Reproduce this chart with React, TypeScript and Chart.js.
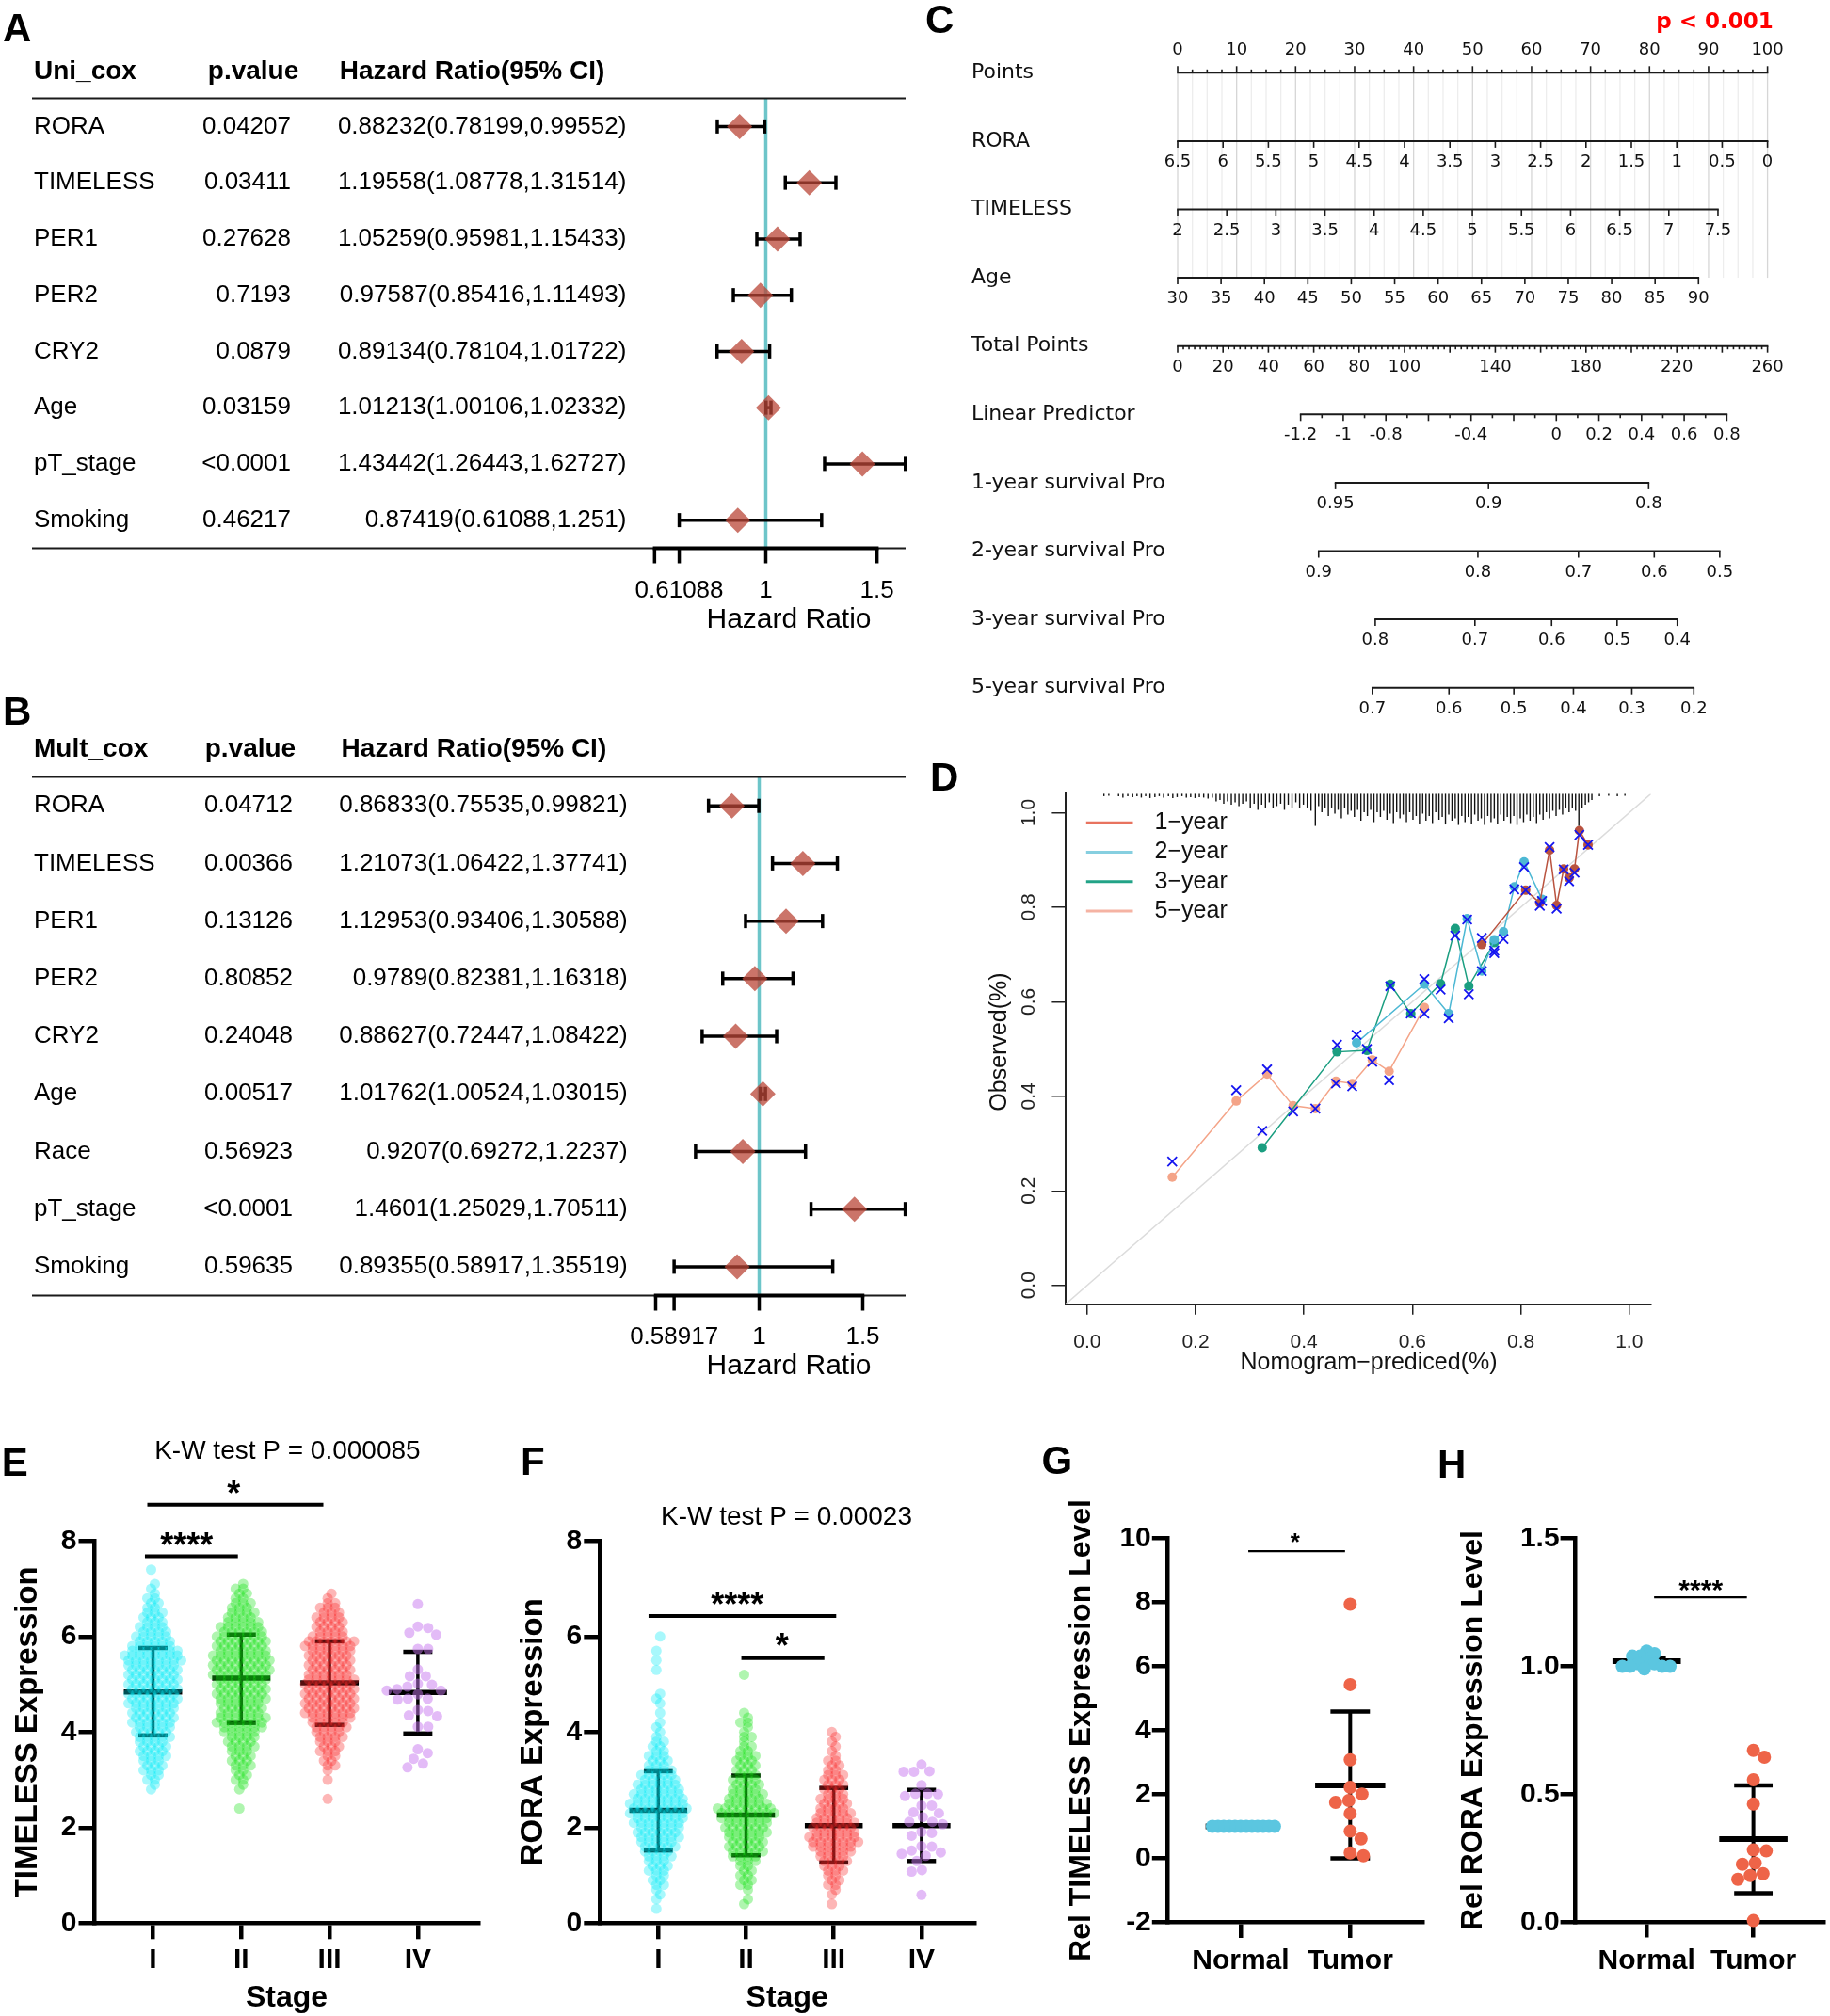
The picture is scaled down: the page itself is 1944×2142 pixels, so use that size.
import React, { useEffect, useRef } from 'react';
import { Chart, registerables } from 'chart.js';

Chart.register(...registerables);

const SANS = "'Liberation Sans', Arial, Helvetica, sans-serif";
const DEJA = "'DejaVu Sans', Verdana, sans-serif";

/* ====================== DATA ====================== */
// Panel A – univariate Cox
const uniVars = ['RORA', 'TIMELESS', 'PER1', 'PER2', 'CRY2', 'Age', 'pT_stage', 'Smoking'];
const uniP = ['0.04207', '0.03411', '0.27628', '0.7193', '0.0879', '0.03159', '<0.0001', '0.46217'];
const uniHR = [0.88232, 1.19558, 1.05259, 0.97587, 0.89134, 1.01213, 1.43442, 0.87419];
const uniLo = [0.78199, 1.08778, 0.95981, 0.85416, 0.78104, 1.00106, 1.26443, 0.61088];
const uniHi = [0.99552, 1.31514, 1.15433, 1.11493, 1.01722, 1.02332, 1.62727, 1.251];
const uniTicks = [0.5, 0.61088, 1, 1.5];
const uniTickLabels = ['', '0.61088', '1', '1.5'];

// Panel B – multivariate Cox
const multVars = ['RORA', 'TIMELESS', 'PER1', 'PER2', 'CRY2', 'Age', 'Race', 'pT_stage', 'Smoking'];
const multP = ['0.04712', '0.00366', '0.13126', '0.80852', '0.24048', '0.00517', '0.56923', '<0.0001', '0.59635'];
const multHR = [0.86833, 1.21073, 1.12953, 0.9789, 0.88627, 1.01762, 0.9207, 1.4601, 0.89355];
const multLo = [0.75535, 1.06422, 0.93406, 0.82381, 0.72447, 1.00524, 0.69272, 1.25029, 0.58917];
const multHi = [0.99821, 1.37741, 1.30588, 1.16318, 1.08422, 1.03015, 1.2237, 1.70511, 1.35519];
const multTicks = [0.5, 0.58917, 1, 1.5];
const multTickLabels = ['', '0.58917', '1', '1.5'];

// Panel C – nomogram
const nomoNames = ['Points', 'RORA', 'TIMELESS', 'Age', 'Total Points', 'Linear Predictor',
  '1-year survival Pro', '2-year survival Pro', '3-year survival Pro', '5-year survival Pro'];
const roraValues = [6.5, 6, 5.5, 5, 4.5, 4, 3.5, 3, 2.5, 2, 1.5, 1, 0.5, 0];
const roraPoints = [0, 100];
const timelessValues = [2, 2.5, 3, 3.5, 4, 4.5, 5, 5.5, 6, 6.5, 7, 7.5];
const timelessPoints = [0, 91.6];
const ageValues = [30, 35, 40, 45, 50, 55, 60, 65, 70, 75, 80, 85, 90];
const agePoints = [0, 88.3];
const totalLabels = [0, 20, 40, 60, 80, 100, 140, 180, 220, 260];
const totalRange = [0, 260];
const lpLabels = [-1.2, -1, -0.8, -0.4, 0, 0.2, 0.4, 0.6, 0.8];
const lpRange = [-1.2, 0.8];
const lpPoints = [20.85, 93.1];
const surv1Labels = [0.95, 0.9, 0.8];
const surv1Points = [26.75, 52.7, 79.85];
const surv2Labels = [0.9, 0.8, 0.7, 0.6, 0.5];
const surv2Points = [23.9, 50.9, 67.95, 80.8, 91.9];
const surv3Labels = [0.8, 0.7, 0.6, 0.5, 0.4];
const surv3Points = [33.5, 50.4, 63.4, 74.5, 84.7];
const surv5Labels = [0.7, 0.6, 0.5, 0.4, 0.3, 0.2];
const surv5Points = [33.0, 46.0, 57.0, 67.1, 77.0, 87.5];

// Panel D – calibration
const calRange = [-0.04, 1.04];
const calTicks = [0, 0.2, 0.4, 0.6, 0.8, 1.0];
const cal1x = [0.728, 0.809, 0.835, 0.853, 0.866, 0.879, 0.889, 0.899, 0.908, 0.924];
const cal1obs = [0.721, 0.836, 0.809, 0.921, 0.804, 0.881, 0.862, 0.881, 0.962, 0.932];
const cal1cor = [0.735, 0.836, 0.803, 0.927, 0.797, 0.880, 0.855, 0.873, 0.953, 0.932];
const cal2x = [0.497, 0.622, 0.667, 0.701, 0.728, 0.751, 0.768, 0.788, 0.806, 0.839];
const cal2obs = [0.513, 0.637, 0.575, 0.776, 0.665, 0.731, 0.748, 0.843, 0.896, 0.817];
const cal2cor = [0.530, 0.648, 0.565, 0.774, 0.665, 0.708, 0.733, 0.838, 0.885, 0.813];
const cal3x = [0.323, 0.461, 0.516, 0.559, 0.597, 0.652, 0.679, 0.704, 0.751];
const cal3obs = [0.291, 0.494, 0.497, 0.637, 0.575, 0.638, 0.755, 0.633, 0.725];
const cal3cor = [0.327, 0.509, 0.500, 0.633, 0.575, 0.626, 0.740, 0.616, 0.703];
const cal5x = [0.157, 0.275, 0.332, 0.380, 0.421, 0.459, 0.489, 0.526, 0.557, 0.622];
const cal5obs = [0.229, 0.390, 0.447, 0.380, 0.374, 0.432, 0.427, 0.477, 0.453, 0.588];
const cal5cor = [0.262, 0.413, 0.457, 0.368, 0.374, 0.427, 0.421, 0.473, 0.434, 0.575];
const calNames = ['1\u2212year', '2\u2212year', '3\u2212year', '5\u2212year'];
const rugX = [
  0.031, 0.040, 0.058, 0.066, 0.075, 0.084, 0.092, 0.100, 0.108, 0.116, 0.125, 0.133, 0.141, 0.150, 0.158, 0.166,
  0.175, 0.183, 0.191, 0.199, 0.207, 0.215, 0.223, 0.231,
  0.238, 0.245, 0.252, 0.259, 0.266, 0.273, 0.280, 0.287, 0.294, 0.301, 0.308, 0.315, 0.322, 0.329, 0.336, 0.343,
  0.350, 0.357, 0.364, 0.371, 0.378, 0.385, 0.392, 0.399, 0.406, 0.413,
  0.421, 0.427, 0.433, 0.439, 0.445, 0.451, 0.457, 0.463, 0.469, 0.475, 0.481, 0.487, 0.493, 0.499, 0.505, 0.511,
  0.517, 0.523, 0.529, 0.535, 0.541, 0.547, 0.553, 0.559, 0.565, 0.571, 0.577, 0.583, 0.589, 0.595, 0.601, 0.607,
  0.613, 0.619, 0.625, 0.631, 0.637, 0.643, 0.649, 0.655, 0.661, 0.667, 0.673, 0.679, 0.685, 0.691, 0.697, 0.703,
  0.709, 0.715, 0.721, 0.727, 0.733, 0.739, 0.745, 0.751, 0.757, 0.763, 0.769, 0.775, 0.781, 0.787, 0.793, 0.799,
  0.805, 0.811, 0.817, 0.823, 0.829, 0.835, 0.841, 0.847, 0.853, 0.859, 0.865, 0.871, 0.877, 0.883, 0.889, 0.895,
  0.901, 0.907, 0.913, 0.919, 0.925, 0.931,
  0.945, 0.962, 0.978, 0.992,
];
const rugLen = [
  0.005, 0.004, 0.005, 0.008, 0.005, 0.007, 0.005, 0.008, 0.005, 0.009, 0.007, 0.005, 0.008, 0.005, 0.009, 0.007,
  0.005, 0.008, 0.007, 0.009, 0.007, 0.008, 0.010, 0.008,
  0.016, 0.013, 0.021, 0.016, 0.023, 0.018, 0.026, 0.021, 0.016, 0.029, 0.021, 0.034, 0.023, 0.029, 0.018, 0.031,
  0.026, 0.021, 0.034, 0.023, 0.029, 0.018, 0.031, 0.023, 0.029, 0.036,
  0.068, 0.026, 0.039, 0.031, 0.047, 0.029, 0.042, 0.034, 0.052, 0.031, 0.044, 0.036, 0.049, 0.034, 0.057, 0.039,
  0.047, 0.034, 0.060, 0.039, 0.049, 0.036, 0.055, 0.042, 0.062, 0.039, 0.052, 0.044, 0.060, 0.039, 0.055, 0.047,
  0.065, 0.042, 0.057, 0.047, 0.062, 0.039, 0.055, 0.049, 0.065, 0.044, 0.057, 0.052, 0.066, 0.047, 0.060, 0.049,
  0.065, 0.044, 0.057, 0.052, 0.066, 0.047, 0.060, 0.052, 0.065, 0.044, 0.057, 0.049, 0.062, 0.047, 0.066, 0.052,
  0.060, 0.044, 0.057, 0.049, 0.062, 0.044, 0.055, 0.039, 0.052, 0.036, 0.047, 0.034, 0.044, 0.031, 0.039, 0.029,
  0.036, 0.068, 0.031, 0.023, 0.018, 0.013,
  0.005, 0.004, 0.005, 0.004,
];

// Panels E / F – expression by stage (histogram counts per 0.1 bin for I–III, raw values for IV)
const stageCats = ['I', 'II', 'III', 'IV'];
const eBinStart = [2.8, 2.4, 2.6];
const eCountsI = [1, 1, 2, 2, 3, 3, 3, 4, 4, 4, 4, 5, 5, 5, 6, 6, 6, 6, 7, 7, 7, 7, 7, 7, 7, 7, 7, 8, 8, 7, 6, 5, 5, 4, 4, 3, 3, 3, 2, 2, 2, 1, 1, 1, 0, 0, 1];
const eCountsII = [1, 0, 0, 0, 1, 1, 2, 2, 2, 3, 3, 3, 3, 4, 4, 4, 5, 6, 7, 7, 6, 6, 6, 7, 7, 7, 7, 7, 8, 8, 8, 8, 8, 7, 7, 7, 7, 6, 6, 5, 4, 4, 3, 3, 2, 2, 2, 1];
const eCountsIII = [1, 0, 0, 0, 1, 0, 1, 2, 2, 2, 3, 3, 3, 4, 4, 5, 5, 6, 7, 7, 7, 7, 7, 7, 7, 7, 6, 6, 6, 6, 6, 6, 7, 7, 5, 4, 4, 4, 4, 3, 3, 2, 1, 1];
const eStageIV = [6.68, 6.21, 6.18, 6.08, 6.04, 5.74, 5.74, 5.31, 5.17, 5.17, 5.01, 4.99, 4.95, 4.90, 4.87, 4.87, 4.79, 4.70, 4.70, 4.68, 4.46, 4.44, 4.35, 4.33, 4.11, 4.11, 3.64, 3.56, 3.44, 3.34, 3.26];
const eMean = [4.84, 5.13, 5.03, 4.83];
const eSdLo = [3.93, 4.19, 4.15, 3.97];
const eSdHi = [5.76, 6.04, 5.90, 5.68];
const eBrackets = [
  { x1: 0.909, x2: 1.962, y: 7.68, label: '****', lx: 1.382, ly: 8.085 },
  { x1: 0.936, x2: 2.93, y: 8.76, label: '*', lx: 1.915, ly: 9.167 },
];

const fBinStart = [0.3, 0.4, 0.4];
const fCountsI = [1, 0, 1, 1, 1, 2, 2, 2, 3, 3, 3, 4, 4, 5, 5, 6, 6, 6, 7, 7, 8, 8, 8, 7, 7, 6, 6, 5, 5, 4, 3, 3, 3, 2, 2, 2, 1, 1, 1, 1, 0, 1, 0, 1, 1, 1, 0, 0, 0, 0, 1, 0, 1, 0, 1, 0, 0, 1];
const fCountsII = [1, 1, 0, 1, 2, 2, 2, 2, 2, 3, 4, 5, 5, 5, 5, 6, 6, 6, 7, 8, 8, 6, 5, 5, 4, 4, 4, 3, 3, 3, 3, 3, 2, 2, 1, 2, 1, 1, 2, 1, 1, 0, 0, 0, 0, 0, 0, 0, 1];
const fCountsIII = [1, 0, 1, 1, 2, 2, 2, 3, 3, 4, 4, 5, 6, 7, 7, 6, 6, 6, 5, 5, 4, 4, 4, 3, 3, 3, 3, 3, 2, 2, 2, 1, 1, 1, 1, 1, 1];
const fStageIV = [3.32, 3.18, 3.17, 3.17, 2.89, 2.71, 2.71, 2.70, 2.66, 2.46, 2.46, 2.32, 2.30, 2.22, 2.12, 2.12, 2.07, 1.91, 1.89, 1.83, 1.61, 1.60, 1.52, 1.48, 1.45, 1.41, 1.30, 1.11, 1.08, 0.59];
const fMean = [2.36, 2.26, 2.04, 2.04];
const fSdLo = [1.52, 1.42, 1.27, 1.30];
const fSdHi = [3.18, 3.09, 2.83, 2.79];
const fBrackets = [
  { x1: 0.889, x2: 3.028, y: 6.43, label: '****', lx: 1.901, ly: 6.85 },
  { x1: 1.947, x2: 2.893, y: 5.55, label: '*', lx: 2.41, ly: 5.98 },
];

// Panels G / H – qPCR
const ntCats = ['Normal', 'Tumor'];
const gNormal = [1, 1, 1, 1, 1, 1, 1, 1, 1, 1, 1, 1];
const gTumor = [7.94, 5.43, 3.08, 2.22, 2.01, 1.81, 1.75, 1.40, 0.85, 0.61, 0.17, 0.08];
const gMean = [1.0, 2.28];
const gSdLo = [1.0, 0.0];
const gSdHi = [1.0, 4.59];
const gBrackets = [{ x1: 1.07, x2: 1.953, y: 9.6, label: '*', lx: 1.497, ly: 10.07 }];
const gYTicks = [-2, 0, 2, 4, 6, 8, 10];

const hNormal = [1.06, 1.05, 1.04, 1.04, 1.02, 1.01, 1.01, 1.0, 1.0, 1.0, 0.99, 1.0];
const hTumor = [0.672, 0.645, 0.557, 0.462, 0.283, 0.279, 0.232, 0.227, 0.190, 0.183, 0.168, 0.007];
const hMean = [1.02, 0.325];
const hSdLo = [1.01, 0.114];
const hSdHi = [1.03, 0.535];
const hBrackets = [{ x1: 1.07, x2: 1.939, y: 1.27, label: '****', lx: 1.507, ly: 1.327 }];
const hYTicks = [0, 0.5, 1, 1.5];
const eYTicks = [0, 2, 4, 6, 8];

/* ====================== HELPERS ====================== */
function seg(ctx: any, x1: number, y1: number, x2: number, y2: number, w: number, c = '#000') {
  ctx.beginPath();
  ctx.lineWidth = w;
  ctx.strokeStyle = c;
  ctx.lineCap = 'butt';
  ctx.moveTo(x1, y1);
  ctx.lineTo(x2, y2);
  ctx.stroke();
}
function txt(ctx: any, s: string, x: number, y: number, font: string, align = 'left', base = 'middle', color = '#000') {
  ctx.font = font;
  ctx.textAlign = align;
  ctx.textBaseline = base;
  ctx.fillStyle = color;
  ctx.fillText(s, x, y);
}
const bold = (n: number, fam = SANS) => `bold ${n}px ${fam}`;
const reg = (n: number, fam = SANS) => `${n}px ${fam}`;

const baseOpts: any = {
  responsive: false,
  maintainAspectRatio: false,
  animation: false,
  devicePixelRatio: 1,
  events: [],
};
const noPlugins = { legend: { display: false }, tooltip: { enabled: false }, title: { display: false } };

// beeswarm from histogram rows
function rowSwarm(counts: number[], start: number, cat: number, stepCat: number) {
  const out: any[] = [];
  counts.forEach((n, i) => {
    const v = Math.round((start + i * 0.1) * 100) / 100;
    const shift = (i % 2 ? 0.25 : -0.25) * stepCat;
    for (let k = 0; k < n; k++) out.push({ x: cat + (k - (n - 1) / 2) * stepCat + shift, y: v });
  });
  return out;
}
// beeswarm by collision avoidance
function collideSwarm(values: number[], cat: number, pxY: number, pxX: number, minD: number) {
  const order = values.slice().sort((a, b) => b - a);
  const placed: any[] = [];
  const out: any[] = [];
  order.forEach((v) => {
    const py = v * pxY;
    let off = 0;
    for (let s = 0; s < 1000; s++) {
      const o = s === 0 ? 0 : (s % 2 ? 1 : -1) * Math.ceil(s / 2) * 0.5;
      if (placed.every((q) => (q.x - o) ** 2 + (q.y - py) ** 2 >= minD * minD)) {
        off = o;
        break;
      }
    }
    placed.push({ x: off, y: py });
    out.push({ x: cat + off / pxX, y: v });
  });
  return out;
}

/* ====================== PANEL A / B ====================== */
function forestConfig(p: any) {
  const L = 34, R = 962;
  const xMin = 1 - (p.one - L) / p.ppu;
  const xMax = 1 + (R - p.one) / p.ppu;
  const oy = p.top;
  const n = p.vars.length;
  const plugin = {
    id: 'forest' + p.letter,
    beforeDatasetsDraw(chart: any) {
      const { ctx, chartArea: a, scales } = chart;
      const x = scales.x, y = scales.y;
      ctx.save();
      const x1 = x.getPixelForValue(1);
      seg(ctx, x1, a.top, x1, a.bottom, 3.5, '#6DC5C9');
      p.lo.forEach((lo: number, i: number) => {
        const py = y.getPixelForValue(i);
        const xa = x.getPixelForValue(lo), xb = x.getPixelForValue(p.hi[i]);
        seg(ctx, xa, py, xb, py, 3.5);
        seg(ctx, xa, py - 7.5, xa, py + 7.5, 3.5);
        seg(ctx, xb, py - 7.5, xb, py + 7.5, 3.5);
      });
      ctx.restore();
    },
    afterDatasetsDraw(chart: any) {
      const { ctx, chartArea: a, scales } = chart;
      const x = scales.x, y = scales.y;
      ctx.save();
      txt(ctx, p.letter, 3, p.letterBase - oy, bold(42), 'left', 'alphabetic');
      const hy = p.headY - oy;
      txt(ctx, p.head, 36, hy, bold(28));
      txt(ctx, 'p.value', p.pHeadX, hy, bold(28));
      txt(ctx, 'Hazard Ratio(95% CI)', p.hrHeadX, hy, bold(28));
      p.vars.forEach((v: string, i: number) => {
        const py = y.getPixelForValue(i);
        txt(ctx, v, 36, py, reg(26));
        txt(ctx, p.pv[i], p.pRight, py, reg(26), 'right');
        txt(ctx, `${p.hr[i]}(${p.lo[i]},${p.hi[i]})`, p.hrRight, py, reg(26), 'right');
      });
      seg(ctx, a.left, a.top, a.right, a.top, 2, '#1a1a1a');
      seg(ctx, a.left, a.bottom, a.right, a.bottom, 2, '#1a1a1a');
      const t0 = x.getPixelForValue(p.ticks[0]);
      const t1 = x.getPixelForValue(p.ticks[p.ticks.length - 1]);
      seg(ctx, t0 - 1.75, a.bottom, t1 + 1.75, a.bottom, 4);
      p.ticks.forEach((t: number, i: number) => {
        const px = x.getPixelForValue(t);
        seg(ctx, px, a.bottom, px, a.bottom + 16, 3.5);
        if (p.tickLabels[i]) txt(ctx, p.tickLabels[i], px, p.tickY - oy, reg(26), 'center');
      });
      txt(ctx, 'Hazard Ratio', p.titleX, p.titleY - oy, reg(30), 'center');
      ctx.restore();
    },
  };
  return {
    type: 'scatter',
    data: {
      datasets: [{
        data: p.hr.map((v: number, i: number) => ({ x: v, y: i })),
        pointStyle: 'rectRot',
        pointRadius: 13.5,
        backgroundColor: 'rgba(185,70,55,0.75)',
        borderColor: 'rgba(0,0,0,0)',
        pointBorderWidth: 0,
        clip: false,
      }],
    },
    options: {
      ...baseOpts,
      layout: { padding: { left: L, right: p.W - R, top: p.areaTop - oy, bottom: p.H - (p.areaBottom - oy) } },
      plugins: noPlugins,
      scales: {
        x: { type: 'linear', display: false, min: xMin, max: xMax },
        y: { type: 'linear', display: false, min: -0.5, max: n - 0.5, reverse: true },
      },
    },
    plugins: [plugin],
  };
}

const makeA = () => forestConfig({
  letter: 'A', letterBase: 44, top: 0, W: 980, H: 700,
  head: 'Uni_cox', vars: uniVars, pv: uniP, hr: uniHR, lo: uniLo, hi: uniHi,
  ticks: uniTicks, tickLabels: uniTickLabels,
  one: 813.5, ppu: 236.3, areaTop: 104.5, areaBottom: 582.5,
  headY: 76, pHeadX: 220.8, hrHeadX: 360.7, pRight: 309, hrRight: 665.4,
  tickY: 628, titleY: 658.5, titleX: 838,
});
const makeB = () => forestConfig({
  letter: 'B', letterBase: 770, top: 735, W: 980, H: 740,
  head: 'Mult_cox', vars: multVars, pv: multP, hr: multHR, lo: multLo, hi: multHi,
  ticks: multTicks, tickLabels: multTickLabels,
  one: 806.5, ppu: 220, areaTop: 825.6, areaBottom: 1376.5,
  headY: 796, pHeadX: 217.7, hrHeadX: 362.6, pRight: 311, hrRight: 666.7,
  tickY: 1421, titleY: 1452, titleX: 838,
});

/* ====================== PANEL C ====================== */
function buildNomoRows() {
  const rows: any[] = [];
  const lin = (v: number, v0: number, v1: number, p0: number, p1: number) => p0 + ((v - v0) / (v1 - v0)) * (p1 - p0);
  const r0: any[] = [];
  for (let k = 0; k <= 40; k++) {
    const v = k * 2.5;
    r0.push({ p: v, len: k % 4 === 0 ? 7 : 3.5, label: k % 4 === 0 ? String(v) : undefined });
  }
  rows.push(r0);
  const linRow = (vals: number[], pts: number[]) =>
    vals.map((v) => ({ p: lin(v, vals[0], vals[vals.length - 1], pts[0], pts[1]), len: 7, label: String(v) }));
  rows.push(linRow(roraValues, roraPoints));
  rows.push(linRow(timelessValues, timelessPoints));
  rows.push(linRow(ageValues, agePoints));
  const r4: any[] = [];
  for (let k = 0; k <= 104; k++) {
    const v = k * 2.5;
    r4.push({ p: lin(v, totalRange[0], totalRange[1], 0, 100), len: k % 8 === 0 ? 7 : 3.5, label: totalLabels.includes(v) ? String(v) : undefined });
  }
  rows.push(r4);
  const r5: any[] = [];
  for (let k = 0; k <= 20; k++) {
    let v = Math.round((lpRange[0] + k * 0.1) * 10) / 10;
    if (v === 0) v = 0;
    r5.push({ p: lin(v, lpRange[0], lpRange[1], lpPoints[0], lpPoints[1]), len: k % 2 === 0 ? 7 : 4, label: lpLabels.includes(v) ? String(v) : undefined });
  }
  rows.push(r5);
  [[surv1Labels, surv1Points], [surv2Labels, surv2Points], [surv3Labels, surv3Points], [surv5Labels, surv5Points]].forEach(([ls, ps]) => {
    rows.push(ls.map((v, i) => ({ p: ps[i], len: 7, label: String(v) })));
  });
  return rows;
}

function makeC() {
  const OX = 983, W = 961, H = 790;
  const L = 1251 - OX, R = 1877.6 - OX, T = 77.3, B = 730.7;
  const rows = buildNomoRows();
  const plugin = {
    id: 'nomo',
    afterDraw(chart: any) {
      const { ctx, scales } = chart;
      const x = scales.x, y = scales.y;
      ctx.save();
      txt(ctx, 'C', 0, 35, bold(42), 'left', 'alphabetic');
      txt(ctx, 'p < 0.001', 1883.8 - OX, 24, bold(23, DEJA), 'right', 'middle', '#FF0000');
      const yTop = y.getPixelForValue(0), yAge = y.getPixelForValue(3);
      for (let k = 0; k <= 40; k++) {
        const px = x.getPixelForValue(k * 2.5);
        seg(ctx, px, yTop, px, yAge, 1.3, k % 4 === 0 ? '#D6D6D6' : '#EDEDED');
      }
      rows.forEach((row: any[], r: number) => {
        const py = y.getPixelForValue(r);
        txt(ctx, nomoNames[r], 1032 - OX, py, reg(22, DEJA), 'left', 'middle', '#111');
        const ps = row.map((t) => t.p);
        const xa = x.getPixelForValue(Math.min(...ps));
        const xb = x.getPixelForValue(Math.max(...ps));
        seg(ctx, xa - 0.8, py, xb + 0.8, py, 2, '#1a1a1a');
        const dir = r === 0 ? -1 : 1;
        row.forEach((t) => {
          const px = x.getPixelForValue(t.p);
          seg(ctx, px, py, px, py + dir * t.len, 1.6, '#1a1a1a');
          if (t.label !== undefined) {
            txt(ctx, t.label, px, py + dir * (r === 0 ? 24 : 22.5), reg(18, DEJA), 'center', 'middle', '#111');
          }
        });
      });
      ctx.restore();
    },
  };
  return {
    type: 'scatter',
    data: { datasets: [] },
    options: {
      ...baseOpts,
      layout: { padding: { left: L, right: W - R, top: T, bottom: H - B } },
      plugins: noPlugins,
      scales: {
        x: { type: 'linear', display: false, min: 0, max: 100 },
        y: { type: 'linear', display: false, min: 0, max: 9, reverse: true },
      },
    },
    plugins: [plugin],
  };
}

/* ====================== PANEL D ====================== */
function makeD() {
  const W = 800, H = 690;
  const L = 148.8, R = 770.8, T = 53.4, B = 595.8;
  const series = [
    { x: cal1x, obs: cal1obs, cor: cal1cor, dot: '#B9533F', leg: '#E8735F' },
    { x: cal2x, obs: cal2obs, cor: cal2cor, dot: '#4DB8D4', leg: '#86CFE0' },
    { x: cal3x, obs: cal3obs, cor: cal3cor, dot: '#1A9E80', leg: '#22A387' },
    { x: cal5x, obs: cal5obs, cor: cal5cor, dot: '#F4A488', leg: '#F5B3A3' },
  ];
  const datasets: any[] = [{
    data: calRange.map((v) => ({ x: v, y: v })),
    showLine: true, borderColor: '#DCDCDC', borderWidth: 1.5, pointRadius: 0, order: 20,
  }];
  series.forEach((s, i) => {
    datasets.push({
      data: s.x.map((v, j) => ({ x: v, y: s.obs[j] })),
      showLine: true, borderColor: s.dot, borderWidth: 1.5,
      pointRadius: 5, pointStyle: 'circle', backgroundColor: s.dot, pointBackgroundColor: s.dot, pointBorderWidth: 0,
      order: 5 + i, clip: false,
    });
    datasets.push({
      data: s.x.map((v, j) => ({ x: v, y: s.cor[j] })),
      showLine: false, pointStyle: 'crossRot', pointRadius: 7,
      borderColor: '#1515F0', pointBorderColor: '#1515F0', pointBorderWidth: 1.8, backgroundColor: 'rgba(0,0,0,0)',
      order: 0, clip: false,
    });
  });
  const plugin = {
    id: 'cal',
    afterDraw(chart: any) {
      const { ctx, scales } = chart;
      const x = scales.x, y = scales.y;
      ctx.save();
      const yTop = y.getPixelForValue(calRange[1]);
      rugX.forEach((v, i) => {
        const px = x.getPixelForValue(v);
        seg(ctx, px, yTop, px, y.getPixelForValue(calRange[1] - rugLen[i]), 1.4, '#111');
      });
      calTicks.forEach((v) => {
        ctx.save();
        ctx.translate(110.3, y.getPixelForValue(v));
        ctx.rotate(-Math.PI / 2);
        txt(ctx, v.toFixed(1), 0, 0, reg(21), 'center', 'middle', '#222');
        ctx.restore();
      });
      ctx.save();
      ctx.translate(79.5, 317);
      ctx.rotate(-Math.PI / 2);
      txt(ctx, 'Observed(%)', 0, 0, reg(25), 'center', 'middle', '#111');
      ctx.restore();
      txt(ctx, 'Nomogram\u2212prediced(%)', 471, 658, reg(25), 'center', 'middle', '#111');
      const ly = [84.2, 115.5, 146.8, 178.1];
      series.forEach((s, i) => {
        seg(ctx, 170.8, ly[i], 220.5, ly[i], 3, s.leg);
        txt(ctx, calNames[i], 243.6, ly[i], reg(25), 'left', 'middle', '#111');
      });
      txt(ctx, 'D', 5, 49.5, bold(42), 'left', 'alphabetic');
      ctx.restore();
    },
  };
  const axisCommon = (tl: number) => ({
    grid: { display: true, drawOnChartArea: false, drawTicks: true, tickLength: tl, lineWidth: 1.5, color: '#222' },
    border: { display: true, width: 2, color: '#222' },
  });
  return {
    type: 'scatter',
    data: { datasets },
    options: {
      ...baseOpts,
      layout: { padding: { left: 0, right: W - R, top: T, bottom: 0 } },
      plugins: noPlugins,
      scales: {
        x: {
          type: 'linear', min: calRange[0], max: calRange[1],
          afterBuildTicks: (s: any) => { s.ticks = calTicks.map((v) => ({ value: v })); },
          afterFit: (s: any) => { s.height = H - B; },
          ticks: { autoSkip: false, maxRotation: 0, minRotation: 0, callback: (v: any) => Number(v).toFixed(1), font: { family: SANS, size: 21 }, color: '#222', padding: 17 },
          ...axisCommon(11),
        },
        y: {
          type: 'linear', min: calRange[0], max: calRange[1],
          afterBuildTicks: (s: any) => { s.ticks = calTicks.map((v) => ({ value: v })); },
          afterFit: (s: any) => { s.width = L; },
          ticks: { display: false },
          ...axisCommon(14.4),
        },
      },
    },
    plugins: [plugin],
  };
}

/* ====================== PANELS E–H ====================== */
function dotConfig(p: any) {
  const plugin = {
    id: 'dots' + p.letter,
    beforeDatasetsDraw(chart: any) {
      const { ctx, scales } = chart;
      const x = scales.x, y = scales.y;
      ctx.save();
      p.means.forEach((m: number, i: number) => {
        const c = i + 1;
        const px = x.getPixelForValue(c);
        const yl = y.getPixelForValue(p.lo[i]), yh = y.getPixelForValue(p.hi[i]), ym = y.getPixelForValue(m);
        seg(ctx, px, yl, px, yh, p.sdW);
        seg(ctx, x.getPixelForValue(c - p.capHalf), yl, x.getPixelForValue(c + p.capHalf), yl, p.capW);
        seg(ctx, x.getPixelForValue(c - p.capHalf), yh, x.getPixelForValue(c + p.capHalf), yh, p.capW);
        seg(ctx, x.getPixelForValue(c - p.meanHalf), ym, x.getPixelForValue(c + p.meanHalf), ym, p.meanW);
      });
      ctx.restore();
    },
    afterDatasetsDraw(chart: any) {
      const { ctx, scales } = chart;
      const x = scales.x, y = scales.y;
      ctx.save();
      txt(ctx, p.letter, p.letterX, p.letterY, bold(42), 'left', 'alphabetic');
      if (p.title) txt(ctx, p.title, p.titleX, p.titleY, reg(28), 'center', 'middle');
      p.brackets.forEach((b: any) => {
        const yb = y.getPixelForValue(b.y);
        seg(ctx, x.getPixelForValue(b.x1), yb, x.getPixelForValue(b.x2), yb, p.bracketW);
        txt(ctx, b.label, x.getPixelForValue(b.lx), y.getPixelForValue(b.ly) + 0.59 * p.starSize, bold(p.starSize), 'center', 'alphabetic');
      });
      ctx.restore();
    },
  };
  const grid = { display: true, drawOnChartArea: false, drawTicks: true, tickLength: p.tl, lineWidth: p.lw, color: '#000' };
  const border = { display: true, width: p.lw, color: '#000' };
  return {
    type: 'scatter',
    data: {
      datasets: p.groups.map((g: any) => ({
        data: g.pts, backgroundColor: g.color, borderColor: 'rgba(0,0,0,0)',
        pointRadius: p.r, pointBorderWidth: 0, clip: false,
      })),
    },
    options: {
      ...baseOpts,
      layout: { padding: { left: 0, right: p.W - p.R, top: p.T, bottom: 0 } },
      plugins: noPlugins,
      scales: {
        x: {
          type: 'linear', min: p.xMin, max: p.xMax,
          afterBuildTicks: (s: any) => { s.ticks = p.cats.map((_: any, i: number) => ({ value: i + 1 })); },
          afterFit: (s: any) => { s.height = p.H - p.B; },
          ticks: {
            autoSkip: false, maxRotation: 0, minRotation: 0,
            callback: (v: any) => p.cats[Math.round(v) - 1],
            font: { family: SANS, size: 30, weight: 'bold' }, color: '#000', padding: p.xPad,
          },
          grid, border,
          title: p.xTitle
            ? { display: true, text: p.xTitle, font: { family: SANS, size: 32, weight: 'bold' }, color: '#000', padding: { top: 0, bottom: 0 } }
            : { display: false },
        },
        y: {
          type: 'linear', min: p.yMin, max: p.yMax,
          afterBuildTicks: (s: any) => { s.ticks = p.yTicks.map((v: number) => ({ value: v })); },
          afterFit: (s: any) => { s.width = p.L; },
          ticks: { callback: p.yFmt, font: { family: SANS, size: 30, weight: 'bold' }, color: '#000', padding: p.yPad },
          grid, border,
          title: { display: true, text: p.yTitle, font: { family: SANS, size: p.yTitleSize, weight: 'bold' }, color: '#000', padding: { top: p.yTitlePad, bottom: 0 } },
        },
      },
    },
    plugins: [plugin],
  };
}

const makeE = () => dotConfig({
  letter: 'E', letterX: 1.7, letterY: 48, title: 'K-W test P = 0.000085', titleX: 305.4, titleY: 22,
  W: 530, H: 622, L: 100.5, R: 508.5, T: 117.3, B: 523.3,
  xMin: 0.339, xMax: 4.689, yMin: 0, yMax: 8, yTicks: eYTicks, yFmt: (v: any) => String(v),
  cats: stageCats, tl: 17, lw: 4.5, xPad: 4, yPad: 2,
  yTitle: 'TIMELESS Expression', yTitleSize: 33, yTitlePad: 10, xTitle: 'Stage', r: 5.5,
  groups: [
    { pts: rowSwarm(eCountsI, eBinStart[0], 1, 8 / 93.8), color: 'rgba(0,235,245,0.34)' },
    { pts: rowSwarm(eCountsII, eBinStart[1], 2, 8 / 93.8), color: 'rgba(20,225,20,0.34)' },
    { pts: rowSwarm(eCountsIII, eBinStart[2], 3, 8 / 93.8), color: 'rgba(250,40,40,0.34)' },
    { pts: collideSwarm(eStageIV, 4, 50.75, 93.8, 11), color: 'rgba(200,120,240,0.5)' },
  ],
  means: eMean, lo: eSdLo, hi: eSdHi, meanHalf: 0.33, capHalf: 0.165, meanW: 5.5, sdW: 3.5, capW: 4.5,
  brackets: eBrackets, starSize: 36, bracketW: 4,
});

const makeF = () => dotConfig({
  letter: 'F', letterX: 23, letterY: 47, title: 'K-W test P = 0.00023', titleX: 305.5, titleY: 92.5,
  W: 520, H: 622, L: 107.3, R: 505, T: 117.3, B: 523.3,
  xMin: 0.3348, xMax: 4.602, yMin: 0, yMax: 8, yTicks: eYTicks, yFmt: (v: any) => String(v),
  cats: stageCats, tl: 17, lw: 4.5, xPad: 4, yPad: 2,
  yTitle: 'RORA Expression', yTitleSize: 33, yTitlePad: 16.9, xTitle: 'Stage', r: 5.5,
  groups: [
    { pts: rowSwarm(fCountsI, fBinStart[0], 1, 8 / 93.2), color: 'rgba(0,235,245,0.34)' },
    { pts: rowSwarm(fCountsII, fBinStart[1], 2, 8 / 93.2), color: 'rgba(20,225,20,0.34)' },
    { pts: rowSwarm(fCountsIII, fBinStart[2], 3, 8 / 93.2), color: 'rgba(250,40,40,0.34)' },
    { pts: collideSwarm(fStageIV, 4, 50.75, 93.2, 11), color: 'rgba(200,120,240,0.5)' },
  ],
  means: fMean, lo: fSdLo, hi: fSdHi, meanHalf: 0.33, capHalf: 0.165, meanW: 5.5, sdW: 3.5, capW: 4.5,
  brackets: fBrackets, starSize: 36, bracketW: 4,
});

const makeG = () => dotConfig({
  letter: 'G', letterX: 16.4, letterY: 46,
  W: 430, H: 622, L: 150.3, R: 420.8, T: 114.5, B: 522.5,
  xMin: 0.3333, xMax: 2.657, yMin: -2, yMax: 10, yTicks: gYTicks, yFmt: (v: any) => String(v),
  cats: ntCats, tl: 16.5, lw: 4.5, xPad: 7, yPad: 1,
  yTitle: 'Rel TIMELESS Expression Level', yTitleSize: 32, yTitlePad: 39.8, r: 7,
  groups: [
    { pts: collideSwarm(gNormal, 1, 34, 116.4, 6), color: '#5BC6E0' },
    { pts: collideSwarm(gTumor, 2, 34, 116.4, 14), color: '#EE6448' },
  ],
  means: gMean, lo: gSdLo, hi: gSdHi, meanHalf: 0.32, capHalf: 0.18, meanW: 6, sdW: 4, capW: 4.5,
  brackets: gBrackets, starSize: 26, bracketW: 2.2,
});

const makeH = () => dotConfig({
  letter: 'H', letterX: 7, letterY: 50,
  W: 424, H: 622, L: 153.6, R: 424, T: 114.5, B: 522.5,
  xMin: 0.3333, xMax: 2.656, yMin: 0, yMax: 1.5, yTicks: hYTicks, yFmt: (v: any) => Number(v).toFixed(1),
  cats: ntCats, tl: 16, lw: 4.5, xPad: 7, yPad: 1,
  yTitle: 'Rel RORA Expression Level', yTitleSize: 32, yTitlePad: 26.2, r: 7,
  groups: [
    { pts: collideSwarm(hNormal, 1, 272, 116.4, 8.5), color: '#5BC6E0' },
    { pts: collideSwarm(hTumor, 2, 272, 116.4, 14), color: '#EE6448' },
  ],
  means: hMean, lo: hSdLo, hi: hSdHi, meanHalf: 0.32, capHalf: 0.18, meanW: 6, sdW: 4, capW: 4.5,
  brackets: hBrackets, starSize: 30, bracketW: 2.2,
});

/* ====================== COMPONENTS ====================== */
function ChartCanvas({ box, make }: { box: any; make: () => any }) {
  const ref = useRef<HTMLCanvasElement | null>(null);
  useEffect(() => {
    const chart = new Chart(ref.current as any, make());
    return () => chart.destroy();
  }, []);
  return (
    <div style={{ position: 'absolute', left: box.left, top: box.top, width: box.width, height: box.height }}>
      <canvas ref={ref} width={box.width} height={box.height} style={{ width: box.width, height: box.height, display: 'block' }} />
    </div>
  );
}

export default function App() {
  return (
    <div style={{ position: 'absolute', left: 0, top: 0, width: 1944, height: 2142, background: '#ffffff', overflow: 'hidden' }}>
      <ChartCanvas box={{ left: 0, top: 0, width: 980, height: 700 }} make={makeA} />
      <ChartCanvas box={{ left: 0, top: 735, width: 980, height: 740 }} make={makeB} />
      <ChartCanvas box={{ left: 983, top: 0, width: 961, height: 790 }} make={makeC} />
      <ChartCanvas box={{ left: 983, top: 790, width: 800, height: 690 }} make={makeD} />
      <ChartCanvas box={{ left: 0, top: 1520, width: 530, height: 622 }} make={makeE} />
      <ChartCanvas box={{ left: 530, top: 1520, width: 520, height: 622 }} make={makeF} />
      <ChartCanvas box={{ left: 1090, top: 1520, width: 430, height: 622 }} make={makeG} />
      <ChartCanvas box={{ left: 1520, top: 1520, width: 424, height: 622 }} make={makeH} />
    </div>
  );
}
